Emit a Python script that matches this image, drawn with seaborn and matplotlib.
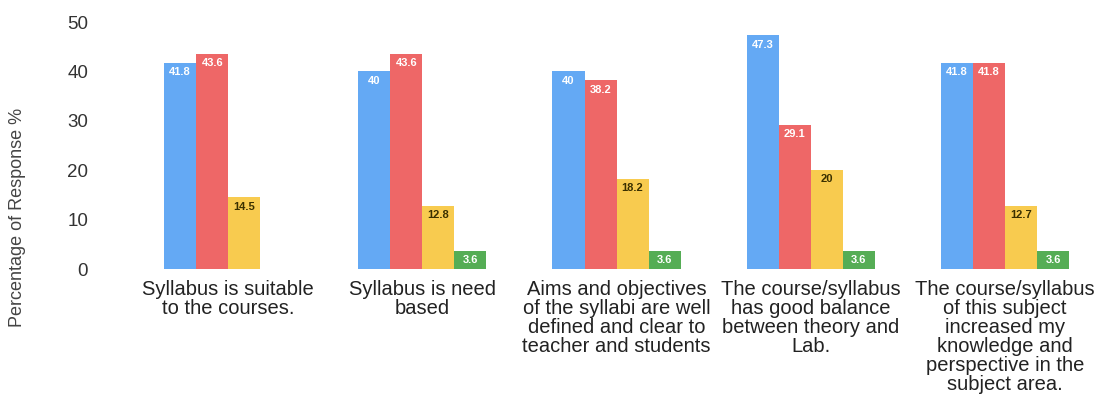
import pandas as pd
import numpy as np
import matplotlib
matplotlib.use('Agg')
import matplotlib.pyplot as plt
import seaborn as sns

# Survey statements (x categories)
statements = [
    'Syllabus is suitable\nto the courses.',
    'Syllabus is need\nbased',
    'Aims and objectives\nof the syllabi are well\ndefined and clear to\nteacher and students',
    'The course/syllabus\nhas good balance\nbetween theory and\nLab.',
    'The course/syllabus\nof this subject\nincreased my\nknowledge and\nperspective in the\nsubject area.',
]

# Response series (percent)
responses = ['Strongly Agree', 'Agree', 'Neutral', 'Disagree']
strongly_agree = [41.8, 40, 40, 47.3, 41.8]
agree = [43.6, 43.6, 38.2, 29.1, 41.8]
neutral = [14.5, 12.8, 18.2, 20, 12.7]
disagree = [np.nan, 3.6, 3.6, 3.6, 3.6]

colors = ['#64a9f4', '#ee6767', '#f8cb4f', '#55ad55']
label_colors = ['white', 'white', '#3a3000', 'white']

# Build a long-format table for seaborn
rows = []
for name, vals in zip(responses, [strongly_agree, agree, neutral, disagree]):
    for stmt, v in zip(statements, vals):
        rows.append({'statement': stmt, 'response': name, 'value': v})
df = pd.DataFrame(rows)

sns.set_theme(style='white')
plt.rcParams['font.family'] = ['Liberation Sans', 'DejaVu Sans']

fig = plt.figure(figsize=(11.02, 4.01), dpi=100)
ax = fig.add_axes([0.119, 0.329, 0.881, 0.616])

sns.barplot(data=df, x='statement', y='value', hue='response', order=statements,
            hue_order=responses, palette=colors, width=0.66, saturation=1,
            errorbar=None, legend=False, linewidth=0, ax=ax)

# Value labels inside the top of each bar
for container, tc in zip(ax.containers, label_colors):
    for bar in container:
        h = bar.get_height()
        if np.isnan(h) or h <= 0:
            continue
        ax.annotate('{:g}'.format(h), xy=(bar.get_x() + bar.get_width() / 2, h),
                    xytext=(0, -3), textcoords='offset points', ha='center', va='top',
                    fontsize=8, fontweight='bold', color=tc)

ax.set_ylim(0, 50)
ax.set_yticks([0, 10, 20, 30, 40, 50])
ax.set_xlim(-0.5, 4.5)
ax.set_xlabel('')
ax.set_ylabel('Percentage of Response %', fontsize=13, color='#444444')
ax.yaxis.set_label_coords(-0.108, 0.21)
ax.tick_params(axis='y', labelsize=13.5, labelcolor='#333333', pad=31, length=0)
ax.tick_params(axis='x', labelsize=14.5, labelcolor='#222222', pad=8, length=0)
for lbl in ax.get_xticklabels():
    lbl.set_linespacing(1.0)
sns.despine(ax=ax, left=True, bottom=True)

plt.savefig('out.png', dpi=100)
